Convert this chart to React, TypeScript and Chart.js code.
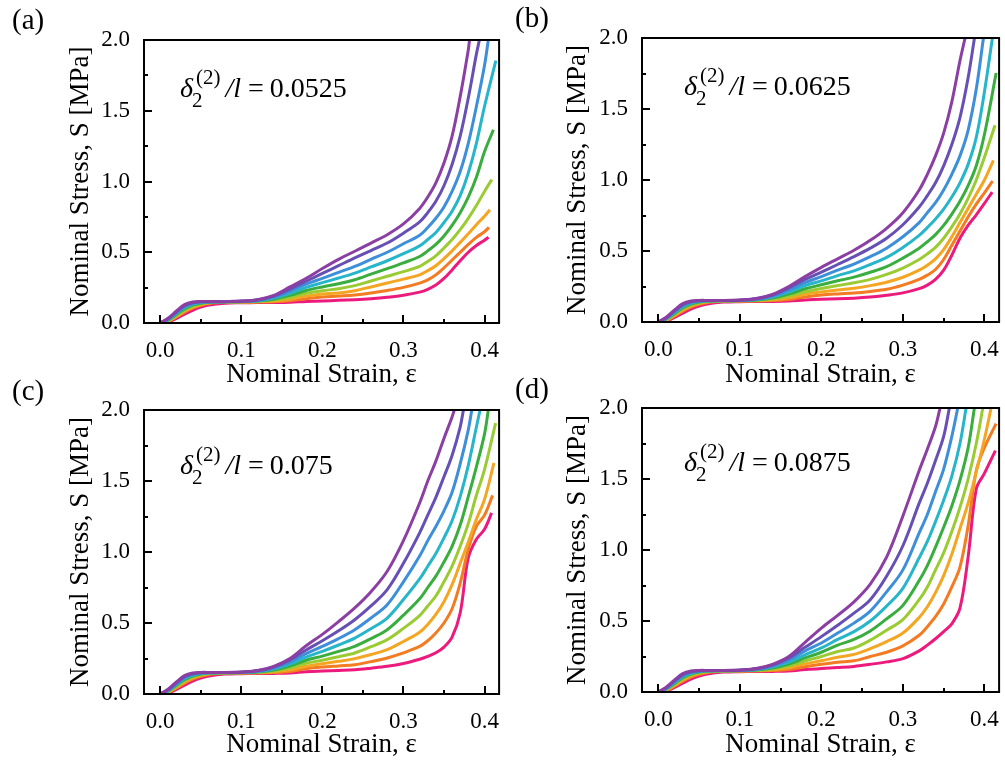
import { useEffect, useRef } from "react";
import { Chart, registerables } from "chart.js";

Chart.register(...registerables);

const SERIF = "'Liberation Serif', 'Times New Roman', serif";

// strain grid shared by all curves
const ONSET_STRAIN = [0, 0.01, 0.02, 0.03, 0.04, 0.05, 0.06, 0.08, 0.1, 0.12, 0.14];
const LATE_STRAIN = [0.16, 0.18, 0.2, 0.22, 0.24, 0.26, 0.28, 0.3, 0.32, 0.33, 0.34, 0.35, 0.36, 0.37, 0.38, 0.39, 0.4];

const SERIES_COLORS = ["#8b3fa3", "#6650b4", "#3d8fd9", "#27b5c9", "#39ad3e", "#9bcb33", "#f4a623", "#f37b21", "#ec1a7d"];

// early loading part (same in every panel)
const ONSET = [
  [0, 0.035, 0.085, 0.13, 0.148, 0.152, 0.152, 0.151, 0.155, 0.165, 0.195],
  [0, 0.03, 0.078, 0.122, 0.143, 0.15, 0.151, 0.151, 0.154, 0.163, 0.19],
  [0, 0.027, 0.072, 0.115, 0.138, 0.147, 0.15, 0.151, 0.153, 0.16, 0.183],
  [0, 0.024, 0.066, 0.108, 0.132, 0.144, 0.149, 0.15, 0.152, 0.158, 0.176],
  [0, 0.021, 0.06, 0.1, 0.126, 0.14, 0.147, 0.15, 0.151, 0.155, 0.168],
  [0, 0.018, 0.054, 0.093, 0.12, 0.136, 0.145, 0.149, 0.15, 0.153, 0.162],
  [0, 0.015, 0.048, 0.085, 0.113, 0.131, 0.142, 0.148, 0.149, 0.151, 0.156],
  [0, 0.012, 0.042, 0.077, 0.105, 0.125, 0.138, 0.146, 0.147, 0.148, 0.151],
  [0, 0.008, 0.032, 0.062, 0.09, 0.112, 0.127, 0.14, 0.143, 0.144, 0.145],
];

// panel (a) delta/l = 0.0525
const PANEL_A = [
  [0.255, 0.315, 0.385, 0.45, 0.507, 0.565, 0.624, 0.7, 0.81, 0.89, 0.99, 1.13, 1.32, 1.6, 1.93, null, null],
  [0.24, 0.295, 0.35, 0.405, 0.46, 0.512, 0.565, 0.635, 0.715, 0.78, 0.86, 0.97, 1.12, 1.32, 1.59, 1.9, null],
  [0.225, 0.275, 0.315, 0.358, 0.4, 0.45, 0.5, 0.56, 0.62, 0.675, 0.74, 0.82, 0.93, 1.07, 1.27, 1.53, 1.82],
  [0.21, 0.252, 0.285, 0.318, 0.353, 0.396, 0.44, 0.49, 0.545, 0.59, 0.64, 0.71, 0.79, 0.9, 1.06, 1.27, 1.53],
  [0.195, 0.23, 0.255, 0.277, 0.306, 0.345, 0.384, 0.425, 0.47, 0.51, 0.555, 0.615, 0.69, 0.78, 0.89, 1.03, 1.21],
  [0.18, 0.21, 0.228, 0.242, 0.264, 0.297, 0.33, 0.363, 0.4, 0.435, 0.475, 0.53, 0.59, 0.66, 0.74, 0.83, 0.93],
  [0.168, 0.19, 0.205, 0.212, 0.228, 0.255, 0.283, 0.31, 0.34, 0.37, 0.405, 0.455, 0.51, 0.57, 0.63, 0.695, 0.755],
  [0.157, 0.172, 0.183, 0.19, 0.198, 0.212, 0.23, 0.252, 0.282, 0.305, 0.34, 0.39, 0.445, 0.5, 0.555, 0.605, 0.645],
  [0.147, 0.152, 0.155, 0.16, 0.165, 0.172, 0.182, 0.196, 0.218, 0.238, 0.268, 0.315, 0.375, 0.44, 0.5, 0.548, 0.585],
];
const PANEL_A_END = [[0.3815, 2], [0.3937, 2], [0.4047, 2], [0.414, 1.854], [0.411, 1.366], [0.409, 1.013], [0.4067, 0.8], [0.4055, 0.676], [0.405, 0.606]];

// panel (b) delta/l = 0.0625
const PANEL_B = [
  [0.25, 0.32, 0.385, 0.445, 0.505, 0.575, 0.66, 0.77, 0.93, 1.04, 1.17, 1.33, 1.55, 1.84, null, null, null],
  [0.24, 0.3, 0.352, 0.405, 0.46, 0.52, 0.59, 0.685, 0.81, 0.89, 0.98, 1.1, 1.25, 1.44, 1.72, null, null],
  [0.225, 0.278, 0.32, 0.365, 0.408, 0.46, 0.52, 0.6, 0.7, 0.77, 0.84, 0.93, 1.04, 1.17, 1.35, 1.64, null],
  [0.21, 0.256, 0.29, 0.327, 0.36, 0.405, 0.455, 0.525, 0.61, 0.665, 0.725, 0.795, 0.88, 0.98, 1.11, 1.3, 1.62],
  [0.196, 0.234, 0.262, 0.29, 0.316, 0.35, 0.39, 0.45, 0.52, 0.565, 0.615, 0.68, 0.76, 0.85, 0.96, 1.1, 1.32],
  [0.182, 0.213, 0.236, 0.257, 0.276, 0.3, 0.335, 0.38, 0.44, 0.48, 0.525, 0.59, 0.67, 0.76, 0.87, 1.0, 1.16],
  [0.17, 0.195, 0.212, 0.226, 0.238, 0.256, 0.28, 0.315, 0.365, 0.4, 0.445, 0.51, 0.6, 0.7, 0.8, 0.9, 1.0],
  [0.158, 0.176, 0.19, 0.198, 0.204, 0.215, 0.23, 0.26, 0.3, 0.33, 0.37, 0.44, 0.54, 0.64, 0.74, 0.83, 0.91],
  [0.148, 0.155, 0.16, 0.163, 0.168, 0.176, 0.188, 0.205, 0.235, 0.26, 0.3, 0.365, 0.47, 0.59, 0.68, 0.755, 0.835],
];
const PANEL_B_END = [[0.3763, 2], [0.3878, 2], [0.3988, 2], [0.4098, 2], [0.4144, 1.753], [0.413, 1.386], [0.411, 1.139], [0.41, 0.993], [0.4095, 0.915]];

// panel (c) delta/l = 0.075
const PANEL_C = [
  [0.25, 0.34, 0.42, 0.51, 0.606, 0.72, 0.864, 1.08, 1.345, 1.5, 1.64, 1.8, 1.95, null, null, null, null],
  [0.24, 0.31, 0.375, 0.445, 0.523, 0.62, 0.735, 0.92, 1.135, 1.26, 1.385, 1.53, 1.68, 1.88, null, null, null],
  [0.225, 0.285, 0.335, 0.39, 0.453, 0.535, 0.629, 0.79, 0.972, 1.08, 1.18, 1.29, 1.42, 1.62, 1.86, null, null],
  [0.21, 0.26, 0.3, 0.345, 0.394, 0.46, 0.535, 0.665, 0.81, 0.9, 0.99, 1.1, 1.22, 1.39, 1.61, 1.88, null],
  [0.196, 0.238, 0.267, 0.3, 0.336, 0.39, 0.453, 0.555, 0.67, 0.75, 0.83, 0.93, 1.04, 1.19, 1.39, 1.6, 1.83],
  [0.182, 0.216, 0.238, 0.262, 0.289, 0.333, 0.383, 0.462, 0.552, 0.62, 0.69, 0.79, 0.9, 1.04, 1.2, 1.4, 1.58],
  [0.17, 0.196, 0.213, 0.23, 0.249, 0.278, 0.312, 0.37, 0.435, 0.49, 0.56, 0.65, 0.77, 0.92, 1.07, 1.23, 1.37],
  [0.158, 0.178, 0.19, 0.198, 0.206, 0.228, 0.254, 0.29, 0.335, 0.375, 0.43, 0.5, 0.6, 0.78, 1.02, 1.18, 1.26],
  [0.148, 0.157, 0.162, 0.166, 0.171, 0.182, 0.195, 0.215, 0.245, 0.265, 0.29, 0.33, 0.4, 0.57, 0.96, 1.09, 1.16],
];
const PANEL_C_END = [[0.3627, 2], [0.374, 2], [0.3843, 2], [0.3945, 2], [0.4047, 2], [0.4137, 1.908], [0.4117, 1.627], [0.41, 1.399], [0.4088, 1.275]];

// panel (d) delta/l = 0.0875
const PANEL_D = [
  [0.25, 0.35, 0.45, 0.54, 0.635, 0.76, 0.95, 1.24, 1.56, 1.71, 1.87, null, null, null, null, null, null],
  [0.24, 0.315, 0.39, 0.47, 0.555, 0.65, 0.815, 1.03, 1.33, 1.47, 1.63, 1.8, null, null, null, null, null],
  [0.225, 0.29, 0.345, 0.415, 0.485, 0.57, 0.705, 0.86, 1.12, 1.25, 1.41, 1.57, 1.8, null, null, null, null],
  [0.21, 0.262, 0.31, 0.37, 0.425, 0.5, 0.605, 0.73, 0.945, 1.06, 1.2, 1.35, 1.52, 1.75, null, null, null],
  [0.196, 0.24, 0.28, 0.33, 0.37, 0.43, 0.515, 0.61, 0.785, 0.89, 1.02, 1.16, 1.31, 1.49, 1.72, null, null],
  [0.182, 0.218, 0.25, 0.285, 0.31, 0.365, 0.435, 0.51, 0.65, 0.74, 0.86, 0.98, 1.13, 1.3, 1.5, 1.75, null],
  [0.17, 0.198, 0.22, 0.245, 0.265, 0.305, 0.355, 0.415, 0.525, 0.6, 0.7, 0.82, 0.97, 1.15, 1.33, 1.55, 1.78],
  [0.158, 0.178, 0.195, 0.21, 0.22, 0.25, 0.28, 0.325, 0.4, 0.46, 0.53, 0.62, 0.74, 0.88, 1.17, 1.56, 1.72],
  [0.148, 0.158, 0.165, 0.172, 0.18, 0.195, 0.212, 0.235, 0.29, 0.33, 0.375, 0.425, 0.48, 0.59, 0.95, 1.43, 1.54],
];
const PANEL_D_END = [[0.3456, 2], [0.357, 2], [0.3673, 2], [0.3775, 2], [0.3877, 2], [0.398, 2], [0.4082, 2], [0.4143, 1.89], [0.4135, 1.7]];

const X_TICKS = [0, 0.1, 0.2, 0.3, 0.4];
const X_MINOR = [0.05, 0.15, 0.25, 0.35];
const Y_TICKS = [0, 0.5, 1, 1.5, 2];
const Y_MINOR = [0.25, 0.75, 1.25, 1.75];
const X_RANGE = [-0.02, 0.418];
const Y_RANGE = [0, 2];

const PANEL_LABELS = ["(a)", "(b)", "(c)", "(d)"];
const RATIO_TEXT = ["0.0525", "0.0625", "0.075", "0.0875"];
const X_TITLE = "Nominal Strain, ε";
const Y_TITLE = "Nominal Stress, S [MPa]";

const CANVAS_W = 505;
const CANVAS_H = 395;

const PANELS = [
  { late: PANEL_A, end: PANEL_A_END, ox: 0, oy: 0, left: 144, top: 40, right: 3, xh: 72, ytPad: 65, ax: 36, ay: 57, lx: 12, ly: 29 },
  { late: PANEL_B, end: PANEL_B_END, ox: 500, oy: 0, left: 142, top: 38, right: 5, xh: 73, ytPad: 62, ax: 42, ay: 57, lx: 15, ly: 27 },
  { late: PANEL_C, end: PANEL_C_END, ox: 0, oy: 370, left: 144, top: 40, right: 3, xh: 71, ytPad: 65, ax: 36, ay: 64, lx: 12, ly: 30 },
  { late: PANEL_D, end: PANEL_D_END, ox: 500, oy: 370, left: 142, top: 38, right: 5, xh: 73, ytPad: 62, ax: 42, ay: 63, lx: 15, ly: 28 },
];

function buildPoints(onset: number[], late: (number | null)[], end: number[]) {
  const pts: { x: number; y: number }[] = [];
  ONSET_STRAIN.forEach((x, i) => pts.push({ x, y: onset[i] }));
  LATE_STRAIN.forEach((x, i) => {
    const v = late[i];
    if (v !== null && v !== undefined) pts.push({ x, y: v });
  });
  pts.push({ x: end[0], y: end[1] });
  return pts;
}

const framePlugin = {
  id: "frameDeco",
  afterDraw(chart: any, _args: any, opts: any) {
    const { ctx, chartArea, scales } = chart;
    const { left, top, right, bottom } = chartArea;
    const xs = scales.x;
    const ys = scales.y;
    ctx.save();
    ctx.strokeStyle = "#000";
    ctx.lineWidth = 2;
    ctx.strokeRect(left, top, right - left, bottom - top);
    const tick = (x1: number, y1: number, x2: number, y2: number) => {
      ctx.beginPath();
      ctx.moveTo(x1, y1);
      ctx.lineTo(x2, y2);
      ctx.stroke();
    };
    X_TICKS.forEach((v) => {
      const p = Math.round(xs.getPixelForValue(v));
      tick(p, bottom, p, bottom - 8);
    });
    X_MINOR.forEach((v) => {
      const p = Math.round(xs.getPixelForValue(v));
      tick(p, bottom, p, bottom - 4);
    });
    Y_TICKS.forEach((v) => {
      const p = Math.round(ys.getPixelForValue(v));
      tick(left, p, left + 8, p);
    });
    Y_MINOR.forEach((v) => {
      const p = Math.round(ys.getPixelForValue(v));
      tick(left, p, left + 4, p);
    });

    // annotation delta_2^(2) / l = value
    ctx.fillStyle = "#000";
    ctx.textAlign = "left";
    ctx.textBaseline = "alphabetic";
    const bx = left + opts.ax;
    const by = top + opts.ay;
    ctx.font = `italic 28px ${SERIF}`;
    ctx.fillText("δ", bx, by);
    const dw = ctx.measureText("δ").width;
    ctx.font = `21px ${SERIF}`;
    ctx.fillText("2", bx + dw - 1, by + 10);
    ctx.fillText("(2)", bx + dw + 3, by - 13);
    const supW = ctx.measureText("(2)").width;
    let cx = bx + dw + 3 + supW + 5;
    ctx.font = `italic 28px ${SERIF}`;
    ctx.fillText("/l", cx, by);
    cx += ctx.measureText("/l").width + 7;
    ctx.font = `28px ${SERIF}`;
    ctx.fillText("=", cx, by);
    cx += ctx.measureText("=").width + 6;
    ctx.fillText(opts.ratio, cx, by);

    // panel label
    ctx.font = `29px ${SERIF}`;
    ctx.fillText(opts.label, opts.lx, opts.ly);
    ctx.restore();
  },
};

function Panel({ idx }: { idx: number }) {
  const ref = useRef<HTMLCanvasElement>(null);
  const p = PANELS[idx];
  useEffect(() => {
    if (!ref.current) return;
    const datasets = SERIES_COLORS.map((color, i) => ({
      data: buildPoints(ONSET[i], p.late[i], p.end[i]),
      borderColor: color,
      backgroundColor: color,
      borderWidth: 3,
      pointRadius: 0,
      fill: false,
      tension: 0.35,
      cubicInterpolationMode: "default" as const,
    }));
    const tickFont = { family: SERIF, size: 23 };
    const titleFont = { family: SERIF, size: 27 };
    const chart = new Chart(ref.current, {
      type: "line",
      data: { datasets },
      options: {
        responsive: false,
        animation: false,
        devicePixelRatio: 1,
        layout: { padding: { left: 0, top: p.top, right: p.right, bottom: 0 } },
        plugins: {
          legend: { display: false },
          tooltip: { enabled: false },
          frameDeco: { ax: p.ax, ay: p.ay, lx: p.lx, ly: p.ly, label: PANEL_LABELS[idx], ratio: RATIO_TEXT[idx] },
        } as any,
        scales: {
          x: {
            type: "linear",
            min: X_RANGE[0],
            max: X_RANGE[1],
            afterBuildTicks: (s: any) => {
              s.ticks = X_TICKS.map((value) => ({ value }));
            },
            afterFit: (s: any) => {
              s.height = p.xh;
            },
            ticks: {
              callback: (v: any) => Number(v).toFixed(1),
              font: tickFont,
              color: "#000",
              padding: 6,
              maxRotation: 0,
              autoSkip: false,
            },
            grid: { display: false },
            border: { display: false },
            title: { display: true, text: X_TITLE, font: titleFont, color: "#000", padding: { top: 0, bottom: 4 } },
          },
          y: {
            type: "linear",
            min: Y_RANGE[0],
            max: Y_RANGE[1],
            afterBuildTicks: (s: any) => {
              s.ticks = Y_TICKS.map((value) => ({ value }));
            },
            afterFit: (s: any) => {
              s.width = p.left;
            },
            ticks: {
              callback: (v: any) => Number(v).toFixed(1),
              font: tickFont,
              color: "#000",
              padding: 6,
              autoSkip: false,
            },
            grid: { display: false },
            border: { display: false },
            title: { display: true, text: Y_TITLE, font: titleFont, color: "#000", padding: { top: p.ytPad, bottom: 0 } },
          },
        },
      },
      plugins: [framePlugin],
    });
    return () => chart.destroy();
  }, []);
  return (
    <canvas
      ref={ref}
      width={CANVAS_W}
      height={CANVAS_H}
      style={{ position: "absolute", left: p.ox, top: p.oy, width: CANVAS_W, height: CANVAS_H }}
    />
  );
}

export default function App() {
  return (
    <div style={{ position: "absolute", left: 0, top: 0, width: 1005, height: 765, background: "#fff", overflow: "hidden" }}>
      {PANELS.map((_, i) => (
        <Panel key={i} idx={i} />
      ))}
    </div>
  );
}
